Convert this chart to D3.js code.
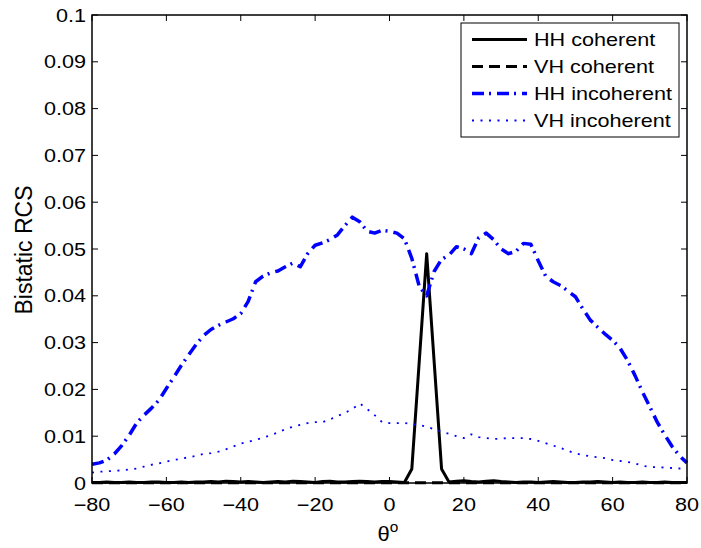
<!DOCTYPE html>
<html>
<head>
<meta charset="utf-8">
<script src="https://cdn.jsdelivr.net/npm/d3@7"></script>
<style>
  html, body { margin: 0; padding: 0; background: #fff; }
  svg { display: block; font-family: "Liberation Sans", Arial, Helvetica, sans-serif; }
</style>
</head>
<body>
<svg id="chart" width="701" height="548"></svg>
<script>
// Scattering angle grid (degrees)
const theta = [-80,-78,-76,-74,-72,-70,-68,-66,-64,-62,-60,-58,-56,-54,-52,-50,-48,-46,-44,-42,
  -40,-38,-36,-34,-32,-30,-28,-26,-24,-22,-20,-18,-16,-14,-12,-10,-8,-6,-4,-2,
  0,2,4,6,8,10,12,14,16,18,20,22,24,26,28,30,32,34,36,38,
  40,42,44,46,48,50,52,54,56,58,60,62,64,66,68,70,72,74,76,78,80];

// Coherent bistatic RCS, HH polarisation
const hhCoherent = [0.0001,0.0001,0.0002,0.0001,0.0001,0.0002,0.0001,0.0001,0.0002,0.0002,0.0001,0.0001,0.0002,0.0001,0.0002,0.0002,0.0003,0.0002,0.0004,0.0003,
  0.0002,0.0003,0.0002,0.0001,0.0002,0.0003,0.0002,0.0004,0.0003,0.0002,0.0001,0.0003,0.0004,0.0002,0.0002,0.0003,0.0004,0.0003,0.0002,0.0003,
  0.0003,0.0002,0.0001,0.003,0.026,0.049,0.026,0.003,0.0002,0.0004,0.0005,0.0003,0.0002,0.0004,0.0005,0.0003,0.0002,0.0001,0.0002,0.0002,
  0.0001,0.0002,0.0003,0.0002,0.0001,0.0001,0.0002,0.0002,0.0003,0.0002,0.0001,0.0002,0.0001,0.0001,0.0002,0.0001,0.0001,0.0002,0.0001,0.0001,0.0001];

// Coherent bistatic RCS, VH polarisation
const vhCoherent = theta.map(() => 0.00005);

// Incoherent bistatic RCS, HH polarisation
const hhIncoherent = [0.0040,0.0043,0.0049,0.0062,0.0080,0.0102,0.0128,0.0145,0.0160,0.0177,0.0202,0.0226,0.0251,0.0274,0.0296,0.0315,0.0328,0.0337,0.0344,0.0351,
  0.0362,0.0388,0.0430,0.0442,0.0449,0.0453,0.0462,0.0470,0.0462,0.0490,0.0508,0.0513,0.0520,0.0530,0.0550,0.0568,0.0558,0.0538,0.0534,0.0540,
  0.0538,0.0534,0.0522,0.0480,0.0420,0.0400,0.0452,0.0478,0.0487,0.0505,0.0500,0.0490,0.0524,0.0534,0.0520,0.0500,0.0490,0.0495,0.0512,0.0510,
  0.0475,0.0442,0.0430,0.0422,0.0410,0.0398,0.0372,0.0348,0.0333,0.0318,0.0305,0.0288,0.0262,0.0230,0.0195,0.0163,0.0130,0.0103,0.0078,0.0058,0.0043];

// Incoherent bistatic RCS, VH polarisation
const vhIncoherent = [0.0022,0.0024,0.0025,0.0026,0.0027,0.0029,0.0031,0.0035,0.0039,0.0042,0.0046,0.0049,0.0052,0.0055,0.0058,0.0062,0.0064,0.0067,0.0072,0.0078,
  0.0084,0.0088,0.0092,0.0097,0.0102,0.0108,0.0115,0.0120,0.0124,0.0128,0.0130,0.0130,0.0136,0.0143,0.0150,0.0158,0.0170,0.0158,0.0145,0.0130,
  0.0128,0.0128,0.0128,0.0126,0.0124,0.0120,0.0115,0.0110,0.0105,0.0100,0.0096,0.0104,0.0098,0.0096,0.0094,0.0095,0.0096,0.0096,0.0096,0.0094,
  0.0090,0.0085,0.0080,0.0075,0.0069,0.0063,0.0060,0.0057,0.0055,0.0053,0.0049,0.0047,0.0045,0.0042,0.0037,0.0034,0.0034,0.0033,0.0032,0.0031,0.0030];

const xTicks = [-80,-60,-40,-20,0,20,40,60,80];
const yTicks = [0,0.01,0.02,0.03,0.04,0.05,0.06,0.07,0.08,0.09,0.1];
const seriesNames = ["HH coherent","VH coherent","HH incoherent","VH incoherent"];

const styles = [
  {color:"#000", width:3, dash:null},
  {color:"#000", width:3, dash:"11,6"},
  {color:"#0000ff", width:3.5, dash:"12,5,2,6"},
  {color:"#0000ff", width:1.8, dash:"2,6.5"}
];
const seriesData = [hhCoherent, vhCoherent, hhIncoherent, vhIncoherent];

const svg = d3.select("#chart");
const L = 92, R = 687, T = 15, B = 483;
const x = d3.scaleLinear().domain([-80,80]).range([L,R]);
const y = d3.scaleLinear().domain([0,0.1]).range([B,T]);
const SX = 1.2; // horizontal glyph stretch
const FS = 18;

function label(g, px, py, str, anchor, size) {
  return g.append("text")
    .attr("transform", `translate(${px},${py}) scale(${SX},1)`)
    .attr("text-anchor", anchor)
    .attr("font-size", size || FS)
    .attr("fill", "#000")
    .text(str);
}

// Series
const line = d3.line().x((d,i)=>x(theta[i])).y(d=>y(d));
seriesData.forEach((vals, k) => {
  const s = styles[k];
  svg.append("path")
    .datum(vals)
    .attr("d", line)
    .attr("fill","none")
    .attr("stroke", s.color)
    .attr("stroke-width", s.width)
    .attr("stroke-dasharray", s.dash)
    .attr("stroke-linejoin","round");
});

// Axes box with inward ticks
const axisG = svg.append("g");
axisG.append("rect").attr("x",L).attr("y",T).attr("width",R-L).attr("height",B-T)
  .attr("fill","none").attr("stroke","#000").attr("stroke-width",1.5);
const tl = 6;
xTicks.forEach(v => {
  axisG.append("line").attr("x1",x(v)).attr("x2",x(v)).attr("y1",B).attr("y2",B-tl).attr("stroke","#000").attr("stroke-width",1);
  axisG.append("line").attr("x1",x(v)).attr("x2",x(v)).attr("y1",T).attr("y2",T+tl).attr("stroke","#000").attr("stroke-width",1);
  label(axisG, x(v), 511, v < 0 ? "\u2212" + Math.abs(v) : String(v), "middle");
});
yTicks.forEach(v => {
  axisG.append("line").attr("x1",L).attr("x2",L+tl).attr("y1",y(v)).attr("y2",y(v)).attr("stroke","#000").attr("stroke-width",1);
  axisG.append("line").attr("x1",R).attr("x2",R-tl).attr("y1",y(v)).attr("y2",y(v)).attr("stroke","#000").attr("stroke-width",1);
  label(axisG, 86, y(v) + 6.5, d3.format("~g")(v), "end");
});

// Axis titles
svg.append("text")
  .attr("transform", "translate(32,250) rotate(-90)")
  .attr("text-anchor","middle").attr("font-size",23).attr("fill","#000")
  .text("Bistatic RCS");
const xl = svg.append("text")
  .attr("transform", `translate(388,541) scale(1.1,1)`)
  .attr("text-anchor","middle").attr("font-size",20).attr("fill","#000");
xl.append("tspan").text("\u03b8");
xl.append("tspan").attr("font-size",14).attr("dy",-9).text("o");

// Legend
const lg = svg.append("g");
lg.append("rect").attr("x",461).attr("y",23).attr("width",218).attr("height",114)
  .attr("fill","#fff").attr("stroke","#000").attr("stroke-width",1);
seriesNames.forEach((name, k) => {
  const ry = 39.5 + k * 27;
  const s = styles[k];
  lg.append("line").attr("x1",472).attr("x2",527).attr("y1",ry).attr("y2",ry)
    .attr("stroke", s.color).attr("stroke-width", s.width).attr("stroke-dasharray", s.dash);
  label(lg, 534, ry + 6.5, name, "start");
});
</script>
</body>
</html>
